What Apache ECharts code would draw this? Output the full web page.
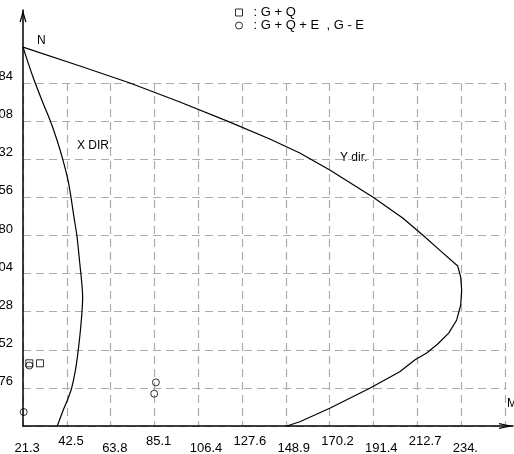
<!DOCTYPE html>
<html>
<head>
<meta charset="utf-8">
<script src="https://cdn.jsdelivr.net/npm/echarts@6/dist/echarts.min.js"></script>
<style>
  html, body { margin: 0; padding: 0; background: #fff; }
  #chart { width: 514px; height: 454px; }
</style>
</head>
<body>
<div id="chart"></div>
<script>
// Axial force N versus moment M interaction curves
const FONT = '"Liberation Sans", Arial, sans-serif';

const xStep = 21.27;
const yStep = 2.76;
const xTickLabels = ['21.3', '42.5', '63.8', '85.1', '106.4', '127.6', '148.9', '170.2', '191.4', '212.7', '234.', ''];
const yTickLabels = ['', '2.76', '5.52', '8.28', '11.04', '13.80', '16.56', '19.32', '22.08', '24.84'];

// [M, N] pairs along the X-direction curve
const xDirCurve = [
  [21.27, 27.44], [26.12, 25.27], [30.97, 23.39], [34.37, 22.16], [37.76, 20.71],
  [40.67, 19.26], [43.10, 17.81], [44.55, 16.58], [46.01, 15.13], [47.46, 13.76],
  [48.43, 12.38], [49.16, 11.30], [49.89, 10.21], [50.23, 9.27], [49.89, 8.25],
  [49.16, 6.95], [48.09, 5.50], [46.74, 4.06], [44.89, 2.75], [42.85, 1.88],
  [40.82, 1.16], [37.91, 0]
];

// [M, N] pairs along the Y-direction curve
const yDirCurve = [
  [21.27, 27.44], [48.92, 26.07], [73.17, 24.84], [97.42, 23.46], [121.68, 22.01],
  [141.08, 20.78], [155.63, 19.77], [170.18, 18.54], [191.04, 16.58], [205.59, 15.06],
  [215.29, 13.83], [223.54, 12.74], [232.27, 11.59], [233.73, 10.79], [234.21, 9.85],
  [233.73, 8.76], [231.79, 7.68], [227.91, 6.73], [222.57, 5.94], [217.24, 5.29],
  [211.42, 4.78], [204.14, 3.93], [189.59, 2.73], [170.18, 1.28], [155.63, 0.31],
  [149.33, 0]
];

// Load-case points
const gqPoints = [[24.33, 4.54], [29.52, 4.54]];
const gqePoints = [[24.33, 4.38], [21.61, 1.01], [85.78, 3.16], [84.96, 2.34]];

const GQ_NAME = ': G + Q';
const GQE_NAME = ': G + Q + E  , G - E';

const hollow = { color: 'rgba(0,0,0,0)', borderColor: '#000', borderWidth: 1 };
const arrowUp = 'path://M3.5,0 L7,12 L5.7,12 L3.5,4.2 L1.3,12 L0,12 Z';
const arrowSide = 'path://M3,0 L6,14 L4.8,14 L3,5.2 L1.2,14 L0,14 Z';

const chart = echarts.init(document.getElementById('chart'), null, { renderer: 'canvas' });

chart.setOption({
  animation: false,
  backgroundColor: '#fff',
  textStyle: { fontFamily: FONT },
  grid: [
    { left: 23, right: 9, top: 83, bottom: 28, containLabel: false, outerBoundsMode: 'none' },
    { left: 23, right: 1, top: 10, bottom: 28, containLabel: false, outerBoundsMode: 'none' }
  ],
  legend: {
    orient: 'vertical',
    left: 235,
    top: 6,
    padding: 0,
    itemGap: 0,
    itemWidth: 7,
    itemHeight: 7,
    selectedMode: false,
    textStyle: { fontFamily: FONT, fontSize: 13, color: '#000', lineHeight: 12.5, padding: [0, 0, 0, 6] },
    data: [
      { name: GQ_NAME, icon: 'rect', itemStyle: hollow },
      { name: GQE_NAME, icon: 'circle', itemStyle: hollow }
    ]
  },
  xAxis: [
    {
      type: 'value',
      gridIndex: 0,
      min: xStep,
      max: xStep * 12,
      interval: xStep,
      axisLine: { show: false },
      axisTick: { show: false },
      splitLine: { show: true, lineStyle: { color: '#acacac', width: 1.2, type: [8, 5] } },
      axisLabel: {
        interval: 0,
        margin: 9,
        color: '#000',
        fontFamily: FONT,
        fontSize: 13,
        formatter: function (v) {
          const i = Math.round(v / xStep) - 1;
          const t = xTickLabels[i] || '';
          if (!t) return '';
          return '{' + (i % 2 === 0 ? 'lo' : 'hi') + '|' + t + '}';
        },
        rich: {
          hi: { width: 17, align: 'left', fontSize: 13, fontFamily: FONT, color: '#000' },
          lo: { width: 17, align: 'left', fontSize: 13, fontFamily: FONT, color: '#000', padding: [6.5, 0, 0, 0] }
        }
      }
    },
    {
      type: 'value',
      gridIndex: 1,
      min: 0,
      max: 1,
      z: 3,
      axisLine: {
        show: true,
        symbol: ['none', arrowSide],
        symbolSize: [6, 14],
        symbolOffset: [0, -7],
        lineStyle: { color: '#000', width: 1.5 }
      },
      axisTick: { show: false },
      axisLabel: { show: false },
      splitLine: { show: false }
    }
  ],
  yAxis: [
    {
      type: 'value',
      gridIndex: 0,
      min: 0,
      max: yStep * 9,
      interval: yStep,
      axisLine: { show: false },
      axisTick: { show: false },
      splitLine: { show: true, lineStyle: { color: '#acacac', width: 1.2, type: [8, 5] } },
      axisLabel: {
        margin: 10,
        color: '#000',
        fontFamily: FONT,
        fontSize: 13,
        verticalAlign: 'bottom',
        formatter: function (v) {
          return yTickLabels[Math.round(v / yStep)] || '';
        }
      }
    },
    {
      type: 'value',
      gridIndex: 1,
      min: 0,
      max: 1,
      z: 3,
      axisLine: {
        show: true,
        symbol: ['none', arrowUp],
        symbolSize: [7, 12],
        symbolOffset: [0, -6],
        lineStyle: { color: '#000', width: 1.5 }
      },
      axisTick: { show: false },
      axisLabel: { show: false },
      splitLine: { show: false }
    }
  ],
  series: [
    {
      name: 'X DIR.',
      type: 'line',
      xAxisIndex: 0,
      yAxisIndex: 0,
      data: xDirCurve,
      smooth: 0.25,
      showSymbol: false,
      clip: false,
      silent: true,
      lineStyle: { color: '#000', width: 1.2 }
    },
    {
      name: 'Y dir.',
      type: 'line',
      xAxisIndex: 0,
      yAxisIndex: 0,
      data: yDirCurve,
      smooth: false,
      showSymbol: false,
      clip: false,
      silent: true,
      lineStyle: { color: '#000', width: 1.2 }
    },
    {
      name: GQ_NAME,
      type: 'scatter',
      xAxisIndex: 0,
      yAxisIndex: 0,
      data: gqPoints,
      symbol: 'rect',
      symbolSize: 7,
      clip: false,
      silent: true,
      itemStyle: hollow
    },
    {
      name: GQE_NAME,
      type: 'scatter',
      xAxisIndex: 0,
      yAxisIndex: 0,
      data: gqePoints,
      symbol: 'circle',
      symbolSize: 7,
      clip: false,
      silent: true,
      itemStyle: hollow
    }
  ],
  graphic: [
    { type: 'text', left: 37, top: 35, style: { text: 'N', font: '12px ' + FONT, fill: '#000' } },
    { type: 'text', left: 507, top: 398, style: { text: 'M', font: '12px ' + FONT, fill: '#000' } },
    { type: 'text', left: 77, top: 140, style: { text: 'X DIR.', font: '12px ' + FONT, fill: '#000' } },
    { type: 'text', left: 340, top: 152, style: { text: 'Y dir.', font: '12px ' + FONT, fill: '#000' } }
  ]
});
</script>
</body>
</html>
